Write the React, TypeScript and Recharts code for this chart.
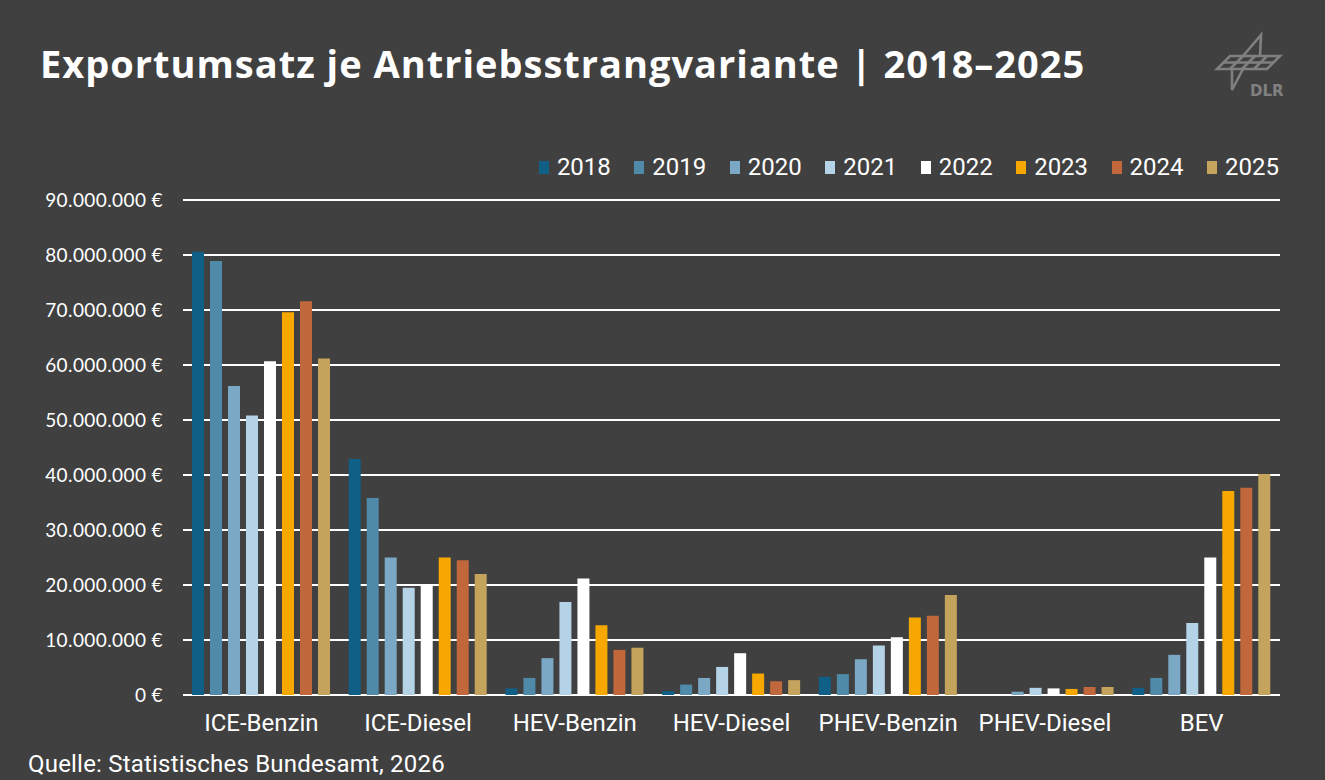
import React from 'react';
import { BarChart, Bar, XAxis, YAxis, CartesianGrid } from 'recharts';

// Export revenue per powertrain variant, values in million euros
const categories = ['ICE-Benzin', 'ICE-Diesel', 'HEV-Benzin', 'HEV-Diesel', 'PHEV-Benzin', 'PHEV-Diesel', 'BEV'];
const years = ['2018', '2019', '2020', '2021', '2022', '2023', '2024', '2025'];

const v2018 = [80.6, 42.9, 1.2, 0.7, 3.3, 0, 1.3];
const v2019 = [78.9, 35.8, 3.1, 1.9, 3.8, 0, 3.1];
const v2020 = [56.2, 25.0, 6.7, 3.1, 6.5, 0.6, 7.3];
const v2021 = [50.8, 19.5, 16.9, 5.1, 9.0, 1.3, 13.1];
const v2022 = [60.7, 19.9, 21.2, 7.6, 10.5, 1.2, 25.0];
const v2023 = [69.6, 25.0, 12.7, 3.9, 14.1, 1.1, 37.1];
const v2024 = [71.6, 24.5, 8.2, 2.5, 14.4, 1.45, 37.7];
const v2025 = [61.2, 22.0, 8.6, 2.7, 18.2, 1.45, 40.2];

const seriesValues = [v2018, v2019, v2020, v2021, v2022, v2023, v2024, v2025];
const seriesColors = ['#0f5f86', '#4f8aa8', '#7ba8c5', '#b5d3e7', '#ffffff', '#f6a800', '#c0673b', '#c4a45c'];

const yTicks = [0, 10e6, 20e6, 30e6, 40e6, 50e6, 60e6, 70e6, 80e6, 90e6];

const data = categories.map((name, i) => {
  const row: Record<string, string | number> = { name };
  years.forEach((y, s) => {
    row[y] = Math.round(seriesValues[s][i] * 1e6);
  });
  return row;
});

const formatEuro = (n: number) =>
  String(Math.round(n)).replace(/\B(?=(\d{3})+(?!\d))/g, '.') + ' €';

const BG = '#404040';
const condensed = "Roboto, sans-serif";

function DlrLogo() {
  const c = '#808080';
  const w = 2.6;
  return (
    <svg width={90} height={80} style={{ position: 'absolute', left: 1200, top: 25 }} viewBox="0 0 90 80">
      {/* upper fuselage */}
      <polyline points="43,31 61,10 60,31" fill="none" stroke={c} strokeWidth={w} strokeLinejoin="miter" />
      {/* wing */}
      <polygon points="30,31 80,31 67,44 17,44" fill="none" stroke={c} strokeWidth={w} />
      <line x1={24} y1={37.5} x2={74} y2={37.5} stroke={c} strokeWidth={w} />
      <line x1={43} y1={31} x2={30} y2={44} stroke={c} strokeWidth={w} />
      <line x1={55} y1={31} x2={42} y2={44} stroke={c} strokeWidth={w} />
      <line x1={67} y1={31} x2={54} y2={44} stroke={c} strokeWidth={w} />
      {/* lower fuselage */}
      <polyline points="32,44 32,65 43,44" fill="none" stroke={c} strokeWidth={w} strokeLinejoin="miter" />
      <text x={50} y={71} fill={c} fontFamily="'DejaVu Sans', sans-serif" fontWeight={700} fontSize={15}>DLR</text>
    </svg>
  );
}

export default function App() {
  return (
    <div
      style={{
        position: 'fixed',
        left: 0,
        top: 0,
        width: 1325,
        height: 780,
        background: BG,
        overflow: 'hidden',
      }}
    >
      <div
        style={{
          position: 'absolute',
          left: 40,
          top: 38,
          color: '#ffffff',
          fontFamily: "'Open Sans', Lato, sans-serif",
          fontWeight: 700,
          fontSize: 38,
          letterSpacing: 1,
          lineHeight: '50px',
          whiteSpace: 'nowrap',
        }}
      >
        Exportumsatz je Antriebsstrangvariante | 2018–2025
      </div>

      <DlrLogo />

      <div
        style={{
          position: 'absolute',
          right: 46,
          top: 152,
          display: 'flex',
          alignItems: 'center',
          gap: 23.5,
          fontFamily: condensed,
          fontSize: 24,
          color: '#ffffff',
          lineHeight: '30px',
        }}
      >
        {years.map((y, i) => (
          <div key={y} style={{ display: 'flex', alignItems: 'center', gap: 8 }}>
            <span style={{ display: 'inline-block', width: 10, height: 13, background: seriesColors[i] }} />
            <span>{y}</span>
          </div>
        ))}
      </div>

      <div style={{ position: 'absolute', left: 0, top: 0 }}>
        <BarChart
          width={1325}
          height={780}
          data={data}
          margin={{ top: 200, right: 45, bottom: 55, left: 0 }}
          barSize={12}
          barGap={6}
        >
          <CartesianGrid vertical={false} stroke="#ffffff" strokeWidth={2} />
          <XAxis
            dataKey="name"
            axisLine={false}
            tickLine={false}
            tickSize={0}
            tickMargin={19}
            height={30}
            interval={0}
            tick={{ fill: '#ffffff', fontSize: 24, fontFamily: condensed }}
          />
          <YAxis
            width={183}
            domain={[0, 90e6]}
            ticks={yTicks}
            axisLine={false}
            tickLine={false}
            tickSize={0}
            tickMargin={20}
            tickFormatter={formatEuro}
            tick={{ fill: '#ffffff', fontSize: 19, letterSpacing: 0.4, fontFamily: "Lato, 'Open Sans', sans-serif" }}
          />
          {years.map((y, i) => (
            <Bar key={y} dataKey={y} fill={seriesColors[i]} isAnimationActive={false} />
          ))}
        </BarChart>
      </div>

      <div
        style={{
          position: 'absolute',
          left: 28,
          top: 749,
          color: '#ffffff',
          fontFamily: condensed,
          fontSize: 24,
          lineHeight: '30px',
          letterSpacing: 0.2,
          whiteSpace: 'nowrap',
        }}
      >
        Quelle: Statistisches Bundesamt, 2026
      </div>
    </div>
  );
}
